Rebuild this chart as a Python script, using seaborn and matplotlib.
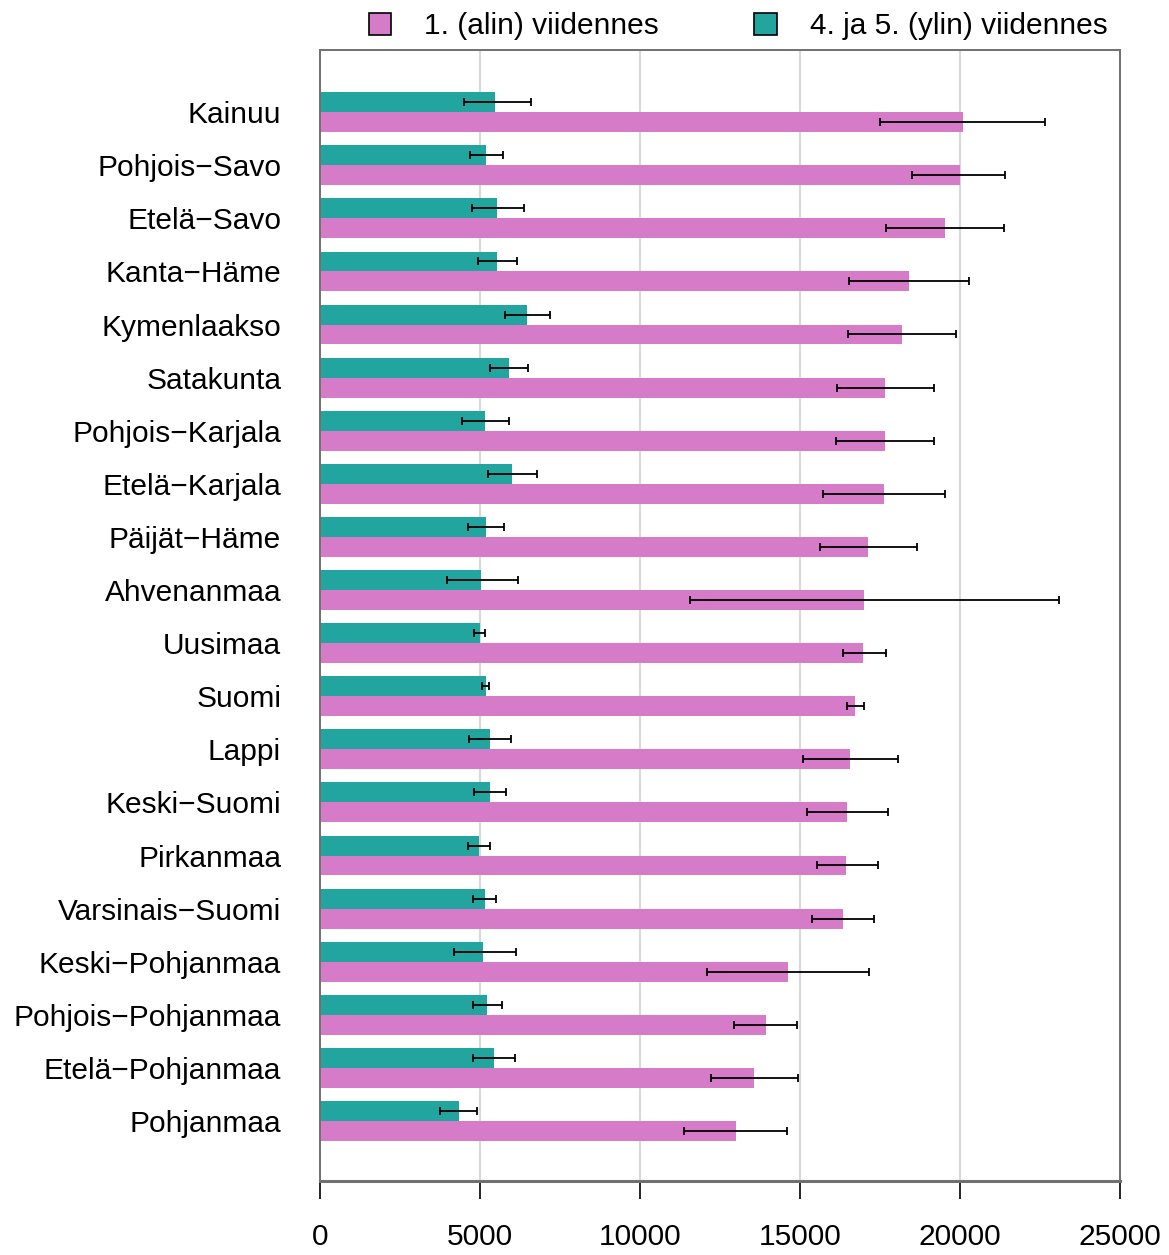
import numpy as np
import pandas as pd
import matplotlib
matplotlib.use("Agg")
import matplotlib.pyplot as plt
import matplotlib.patches as mpatches
import seaborn as sns

# ── Data ─────────────────────────────────────────────────────────────────────
regions = ["Kainuu", "Pohjois−Savo", "Etelä−Savo", "Kanta−Häme", "Kymenlaakso",
           "Satakunta", "Pohjois−Karjala", "Etelä−Karjala", "Päijät−Häme",
           "Ahvenanmaa", "Uusimaa", "Suomi", "Lappi", "Keski−Suomi", "Pirkanmaa",
           "Varsinais−Suomi", "Keski−Pohjanmaa", "Pohjois−Pohjanmaa",
           "Etelä−Pohjanmaa", "Pohjanmaa"]

low_lbl = "1. (alin) viidennes"
high_lbl = "4. ja 5. (ylin) viidennes"

low_vals = [20085, 19990, 19520, 18420, 18200, 17670, 17670, 17640, 17110, 17010,
            16980, 16730, 16570, 16480, 16450, 16350, 14620, 13930, 13560, 12990]
low_lo = [17490, 18500, 17690, 16530, 16500, 16160, 16130, 15720, 15620, 11550,
          16340, 16460, 15080, 15210, 15530, 15380, 12080, 12930, 12210, 11390]
low_hi = [22650, 21420, 21360, 20270, 19890, 19180, 19190, 19520, 18650, 23090,
          17690, 17010, 18060, 17740, 17430, 17320, 17160, 14910, 14940, 14590]

high_vals = [5480, 5200, 5540, 5540, 6480, 5920, 5170, 6010, 5200, 5040,
             5010, 5200, 5320, 5320, 4980, 5170, 5100, 5230, 5440, 4350]
high_lo = [4490, 4690, 4760, 4950, 5790, 5320, 4430, 5260, 4630, 3960,
           4820, 5070, 4650, 4810, 4640, 4790, 4180, 4780, 4780, 3750]
high_hi = [6580, 5720, 6360, 6170, 7180, 6500, 5920, 6790, 5750, 6200,
           5150, 5290, 5970, 5810, 5320, 5490, 6130, 5690, 6100, 4910]

pink = "#D67BC8"
teal = "#22A59F"

df = pd.concat([
    pd.DataFrame({"region": regions, "group": high_lbl, "value": high_vals}),
    pd.DataFrame({"region": regions, "group": low_lbl, "value": low_vals}),
])

# ── Plot ─────────────────────────────────────────────────────────────────────
sns.set_style("white")
plt.rcParams["font.family"] = ["Liberation Sans", "DejaVu Sans"]
plt.rcParams["text.color"] = "black"
plt.rcParams["xtick.color"] = "black"
plt.rcParams["ytick.color"] = "black"
fs = 21.5

fig = plt.figure(figsize=(11.69, 12.55), dpi=100)
ax = fig.add_axes([320 / 1169, 1 - 1181 / 1255, 800 / 1169, 1131 / 1255])

for v in [5000, 10000, 15000, 20000]:
    ax.axvline(v, color="#d9d9d9", lw=1.6, zorder=0)

sns.barplot(data=df, x="value", y="region", hue="group",
            hue_order=[high_lbl, low_lbl], palette=[teal, pink],
            order=regions, orient="h", width=0.75, errorbar=None,
            legend=False, saturation=1, linewidth=0, ax=ax, zorder=2)

# error bars, centred on each bar
for cont, vals, lo, hi in zip(ax.containers,
                              [high_vals, low_vals],
                              [high_lo, low_lo],
                              [high_hi, low_hi]):
    ys = [p.get_y() + p.get_height() / 2 for p in cont.patches]
    vals = np.array(vals)
    err = [vals - np.array(lo), np.array(hi) - vals]
    ax.errorbar(vals, ys, xerr=err, fmt="none", ecolor="black",
                elinewidth=1.3, capsize=3, capthick=1.3, zorder=3)

ax.set_xlim(0, 25000)
ax.set_ylim(len(regions) - 1 + 1.13, -1.17)
ax.set_xticks([0, 5000, 10000, 15000, 20000, 25000])
ax.set_xlabel("")
ax.set_ylabel("")

ax.tick_params(axis="y", length=0, pad=28, labelsize=fs, labelcolor="black")
ax.tick_params(axis="x", length=13, width=1.2, color="black", pad=17,
               labelsize=fs, labelcolor="black", bottom=True)

for side in ["left", "top", "right"]:
    ax.spines[side].set_color("#707070")
    ax.spines[side].set_linewidth(1.4)
ax.spines["bottom"].set_color("#707070")
ax.spines["bottom"].set_linewidth(2.2)

handles = [mpatches.Patch(facecolor=pink, edgecolor="black", lw=1.2, label=low_lbl),
           mpatches.Patch(facecolor=teal, edgecolor="black", lw=1.2, label=high_lbl)]
fig.legend(handles=handles, loc="center", bbox_to_anchor=(738 / 1169, 1 - 26 / 1255),
           ncol=2, frameon=False, fontsize=fs, handlelength=0.75, handleheight=0.75,
           handletextpad=1.1, columnspacing=3.2, labelcolor="black")

fig.savefig("out.png", dpi=100)
